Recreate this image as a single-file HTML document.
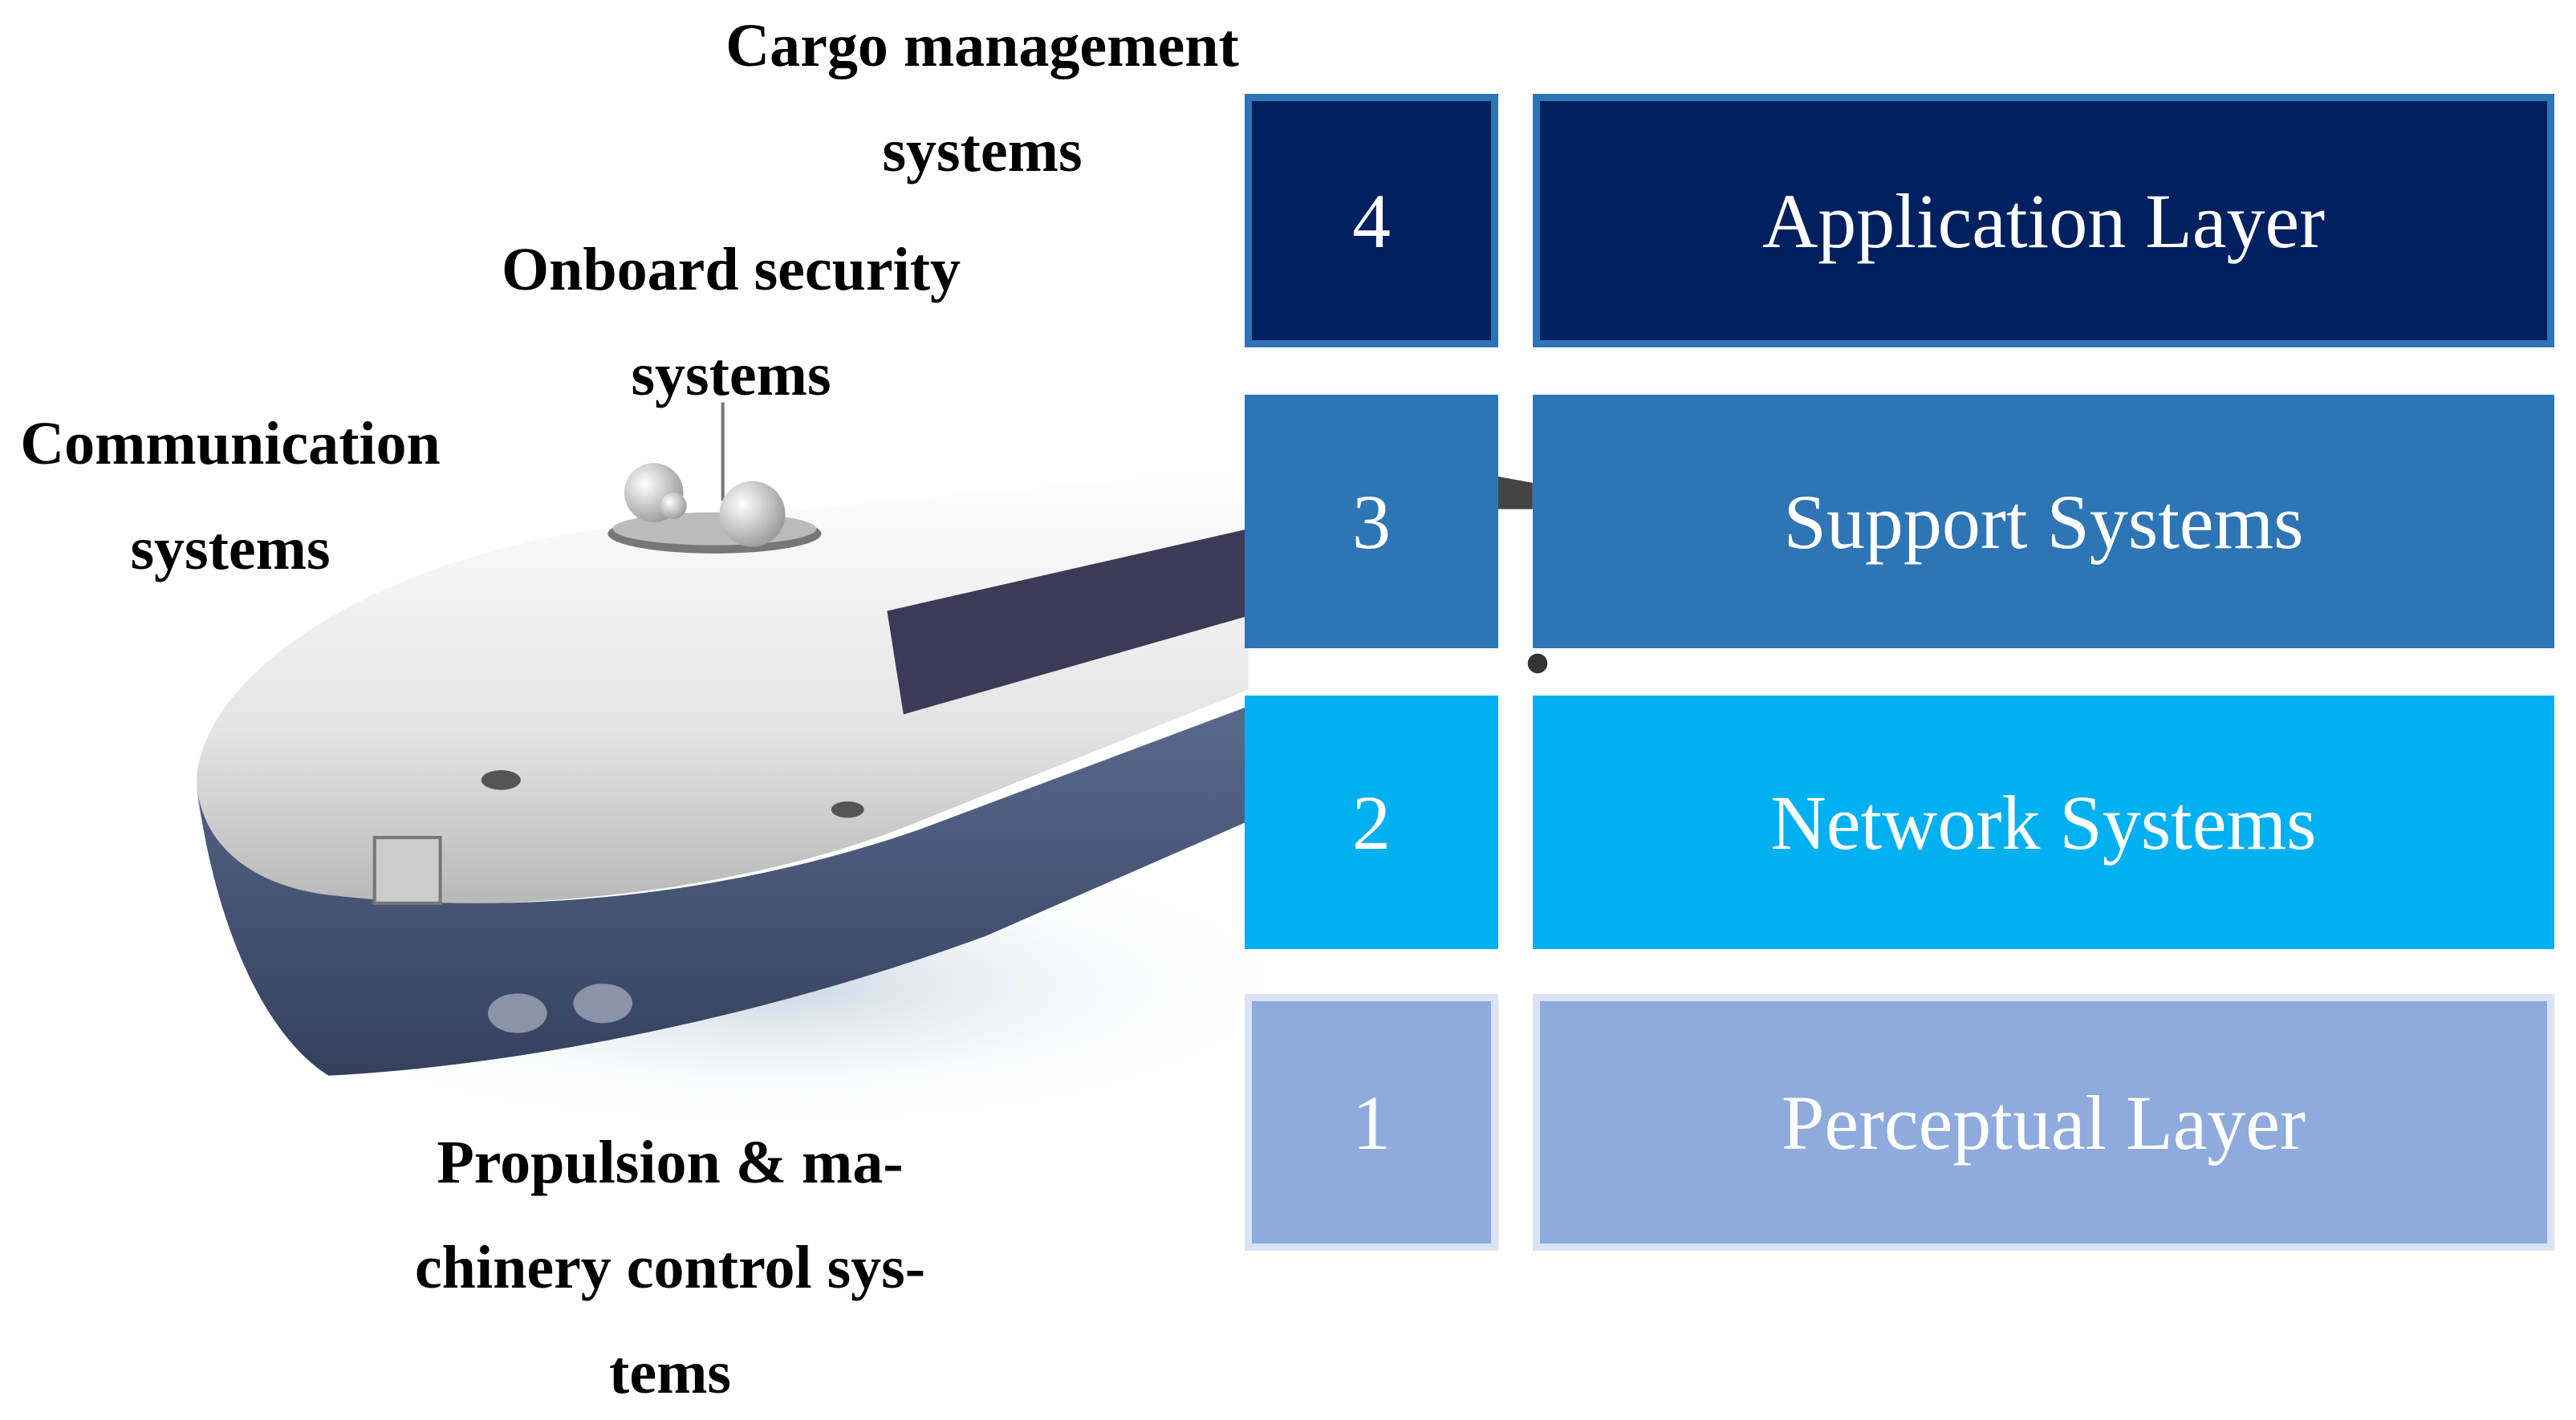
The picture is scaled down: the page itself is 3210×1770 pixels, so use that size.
<!DOCTYPE html>
<html><head><meta charset="utf-8"><style>
html,body{margin:0;padding:0;background:#fff;}
#c{position:relative;width:3210px;height:1770px;overflow:hidden;font-family:"Liberation Serif",serif;}
.b{position:absolute;box-sizing:border-box;color:#fff;display:flex;align-items:center;justify-content:center;font-size:96px;}
.lbl{position:absolute;font-weight:bold;font-size:76px;color:#000;text-align:center;line-height:131px;white-space:nowrap;transform:translateX(-50%);}
</style></head><body><div id="c">
<svg width="3210" height="1770" style="position:absolute;left:0;top:0">
<defs>
<linearGradient id="w" x1="0" y1="0" x2="0" y2="1"><stop offset="0" stop-color="#ffffff"/><stop offset="0.6" stop-color="#e4e4e4"/><stop offset="1" stop-color="#b8b8b8"/></linearGradient>
<linearGradient id="n" x1="0" y1="0" x2="0" y2="1"><stop offset="0" stop-color="#5a6a8c"/><stop offset="1" stop-color="#34405e"/></linearGradient>
<radialGradient id="s" cx="0.5" cy="0.5" r="0.5"><stop offset="0" stop-color="#c9d6e0"/><stop offset="1" stop-color="#ffffff" stop-opacity="0"/></radialGradient>
<radialGradient id="d" cx="0.35" cy="0.35" r="0.7"><stop offset="0" stop-color="#fff"/><stop offset="1" stop-color="#9a9a9a"/></radialGradient>
</defs>
<g transform="scale(2.047)">
<ellipse cx="470" cy="600" rx="330" ry="90" fill="url(#s)"/>
<path d="M120,470 C130,400 250,330 400,318 L760,285 L760,420 L560,500 C450,545 300,560 160,545 C130,530 118,500 120,470 Z" fill="url(#w)"/>
<path d="M540,372 L760,322 L760,375 L550,435 Z" fill="#3d3a58"/>
<path d="M120,480 C125,520 160,540 200,545 C330,560 460,540 560,505 L760,430 L760,500 L600,570 C450,625 300,650 200,655 C160,630 130,560 120,480 Z" fill="url(#n)"/>
<path d="M911,290 L933,294 L933,310 L911,310 Z" fill="#444"/>
<circle cx="936" cy="404" r="6" fill="#333"/>
<ellipse cx="435" cy="325" rx="65" ry="12" fill="#777"/>
<ellipse cx="435" cy="322" rx="62" ry="10" fill="#bbb"/>
<line x1="440" y1="245" x2="440" y2="305" stroke="#777" stroke-width="2"/>
<circle cx="398" cy="300" r="18" fill="url(#d)"/>
<circle cx="410" cy="308" r="8" fill="url(#d)"/>
<circle cx="458" cy="313" r="20" fill="url(#d)"/>
<rect x="228" y="510" width="40" height="40" fill="#ccc" stroke="#777" stroke-width="2"/>
<ellipse cx="305" cy="475" rx="12" ry="6" fill="#555"/>
<ellipse cx="516" cy="493" rx="10" ry="5" fill="#555"/>
<ellipse cx="315" cy="617" rx="18" ry="12" fill="#8a93a8"/>
<ellipse cx="367" cy="611" rx="18" ry="12" fill="#8a93a8"/>
</g>
</svg>
<div class="b" style="left:1551px;top:117px;width:316px;height:316px;background:#002060;border:9px solid #2E75B6">4</div>
<div class="b" style="left:1910px;top:117px;width:1273px;height:316px;background:#002060;border:9px solid #2E75B6">Application Layer</div>
<div class="b" style="left:1551px;top:492px;width:316px;height:316px;background:#2E75B6">3</div>
<div class="b" style="left:1910px;top:492px;width:1273px;height:316px;background:#2E75B6">Support Systems</div>
<div class="b" style="left:1551px;top:867px;width:316px;height:316px;background:#00B0F0">2</div>
<div class="b" style="left:1910px;top:867px;width:1273px;height:316px;background:#00B0F0">Network Systems</div>
<div class="b" style="left:1551px;top:1239px;width:316px;height:320px;background:#8FAADC;border:9px solid #DAE3F3">1</div>
<div class="b" style="left:1910px;top:1239px;width:1273px;height:320px;background:#8FAADC;border:9px solid #DAE3F3">Perceptual Layer</div>
<div class="lbl" style="left:1224px;top:-8px">Cargo management<br>systems</div>
<div class="lbl" style="left:911px;top:271px">Onboard security<br>systems</div>
<div class="lbl" style="left:287px;top:488px">Communication<br>systems</div>
<div class="lbl" style="left:835px;top:1384px">Propulsion &amp; ma-<br>chinery control sys-<br>tems</div>
</div></body></html>
